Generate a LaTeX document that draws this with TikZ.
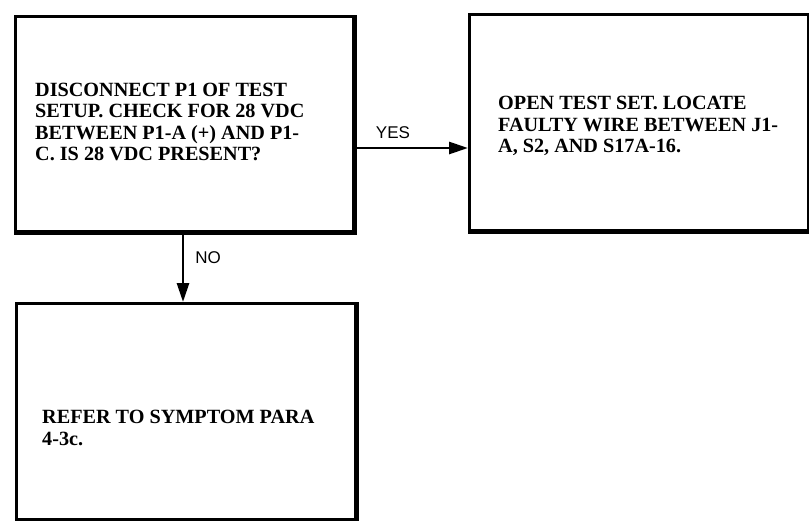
\documentclass[tikz,border=0pt]{standalone}
\usepackage{fontspec}
\setmainfont{Liberation Serif}
\setsansfont{Liberation Sans}
\usetikzlibrary{arrows.meta}
\begin{document}
\begin{tikzpicture}[x=1pt,y=-1pt,
  boxst/.style={draw,line width=2.5pt,inner sep=0pt,anchor=north west},
  txt/.style={anchor=west,align=left,font=\bfseries\fontsize{20.2}{21.2}\selectfont,inner sep=0pt},
  lbl/.style={font=\sffamily\fontsize{17}{19}\selectfont,inner sep=0pt},
  conn/.style={line width=2.8pt,-{Triangle[length=19pt,width=12pt]}}]
\useasboundingbox (0,0) rectangle (809,520);
\node[boxst,minimum width=338pt,minimum height=215pt] (b1) at (14,15) {};
\node[boxst,minimum width=339pt,minimum height=216pt] (b2) at (468,13) {};
\node[boxst,minimum width=339pt,minimum height=216pt] (b3) at (15,302) {};
% heavier bottom/right edges
\draw[line width=5pt] (b1.south west) -- (b1.south east) -- (b1.north east);
\draw[line width=5pt] (b2.south west) -- (b2.south east);
\draw[line width=4pt] (b3.south east) -- (b3.north east);
\node[txt] (t1) at (35,122) {DISCONNECT P1 OF TEST\\SETUP. CHECK FOR 28 VDC\\BETWEEN P1-A (+) AND P1-\\C. IS 28 VDC PRESENT?};
\node[txt] (t2) at (498,126) {OPEN TEST SET. LOCATE\\FAULTY WIRE BETWEEN J1-\\A, S2, AND S17A-16.};
\node[txt] (t3) at (42,428) {REFER TO SYMPTOM PARA\\4-3c.};
\draw[conn] (b1.east |- 0,148) -- (b2.west |- 0,148);
\draw[conn] (183,0 |- b1.south) -- (183,0 |- b3.north);
\node[lbl] (yes) at (393,133) {YES};
\node[lbl] (no) at (208,258) {NO};
\end{tikzpicture}
\end{document}
